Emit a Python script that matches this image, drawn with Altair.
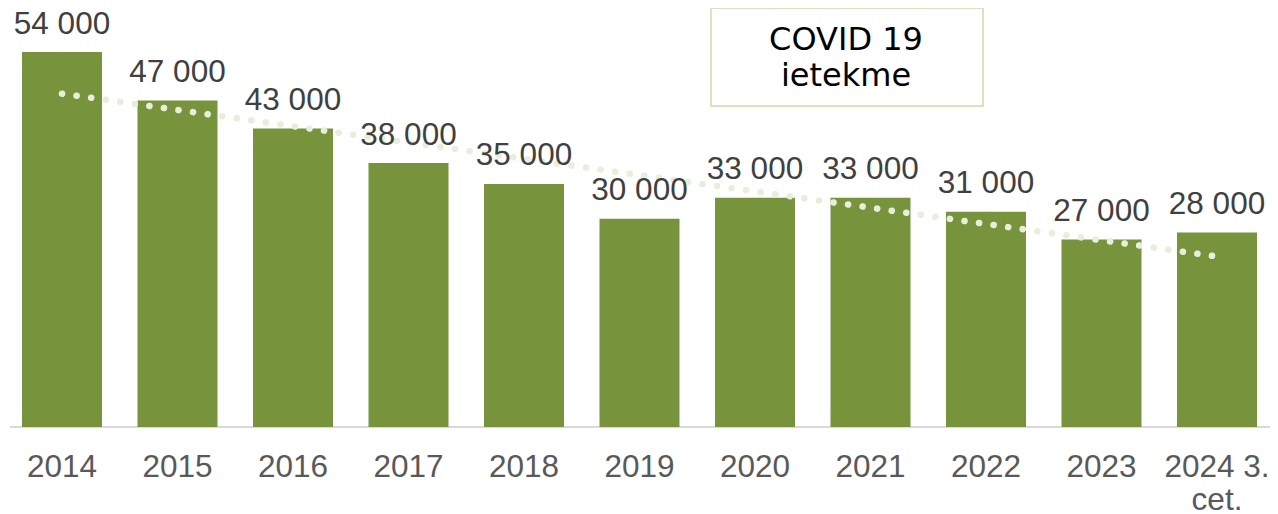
import altair as alt
import pandas as pd

years = ["2014", "2015", "2016", "2017", "2018", "2019", "2020", "2021", "2022", "2023", "2024 3. cet."]
values = [54000, 47000, 43000, 38000, 35000, 30000, 33000, 33000, 31000, 27000, 28000]
annotation_lines = ["COVID 19", "ietekme"]

df = pd.DataFrame({"year": years, "value": values, "idx": list(range(len(years)))})

W, H = 1262, 419

x_enc = alt.X(
    "year:N",
    sort=years,
    scale=alt.Scale(domain=years, range=[14, 1249], paddingInner=0.3074, paddingOuter=0),
    axis=alt.Axis(
        title=None,
        labelAngle=0,
        ticks=False,
        tickSize=0,
        domain=False,
        labelFont="Liberation Sans",
        labelFontSize=31.5,
        labelColor="#595959",
        labelPadding=49,
        labelBaseline="alphabetic",
        labelLineHeight=33,
        labelOverlap=False,
        labelBound=False,
        labelFlush=False,
        labelExpr="datum.value == '2024 3. cet.' ? ['2024 3.', 'cet.'] : datum.value",
    ),
)
y_scale = alt.Scale(domain=[0, 60336], nice=False, zero=True)

base = alt.Chart(df)

ann_df = pd.DataFrame({"a": [1]})
baseline = alt.Chart(ann_df).mark_rule(color="#D9D9D9", strokeWidth=2).encode(
    x=alt.value(2), x2=alt.value(W), y=alt.value(H)
)

bars = base.mark_bar(color="#77933C").encode(
    x=x_enc,
    y=alt.Y("value:Q", scale=y_scale, axis=None),
)

trend = (
    base.transform_regression("idx", "value", method="linear")
    .transform_lookup(lookup="idx", from_=alt.LookupData(data=df, key="idx", fields=["year"]))
    .mark_line(color="#E9EEDA", strokeWidth=6.5, strokeDash=[0.1, 14.6], strokeCap="round")
    .encode(
        x=alt.X("year:N", sort=years),
        y=alt.Y("value:Q", scale=y_scale),
    )
)

labels = (
    base.transform_calculate(lbl="replace(format(datum.value, ','), ',', ' ')")
    .mark_text(dy=-18.5, baseline="alphabetic", fontSize=31.5, font="Liberation Sans", color="#404040")
    .encode(
        x=alt.X("year:N", sort=years),
        y=alt.Y("value:Q", scale=y_scale),
        text="lbl:N",
    )
)

box = alt.Chart(ann_df).mark_rect(fill="white", stroke="#D7E4BD", strokeWidth=2).encode(
    x=alt.value(703), x2=alt.value(975), y=alt.value(0), y2=alt.value(98)
)
box_text = alt.Chart(ann_df).mark_text(
    font="DejaVu Sans", fontSize=32, color="#000000", baseline="alphabetic", align="center", lineHeight=36
).encode(x=alt.value(838), y=alt.value(42), text=alt.value(annotation_lines))

chart = (
    alt.layer(baseline, bars, trend, labels, box, box_text)
    .properties(
        width=W,
        height=H,
        autosize=alt.AutoSizeParams(type="none"),
        padding={"left": 0, "top": 0, "right": 0, "bottom": 88},
    )
    .configure_view(stroke=None)
)

chart.save("out.html", embed_options={"renderer": "svg", "actions": False})
